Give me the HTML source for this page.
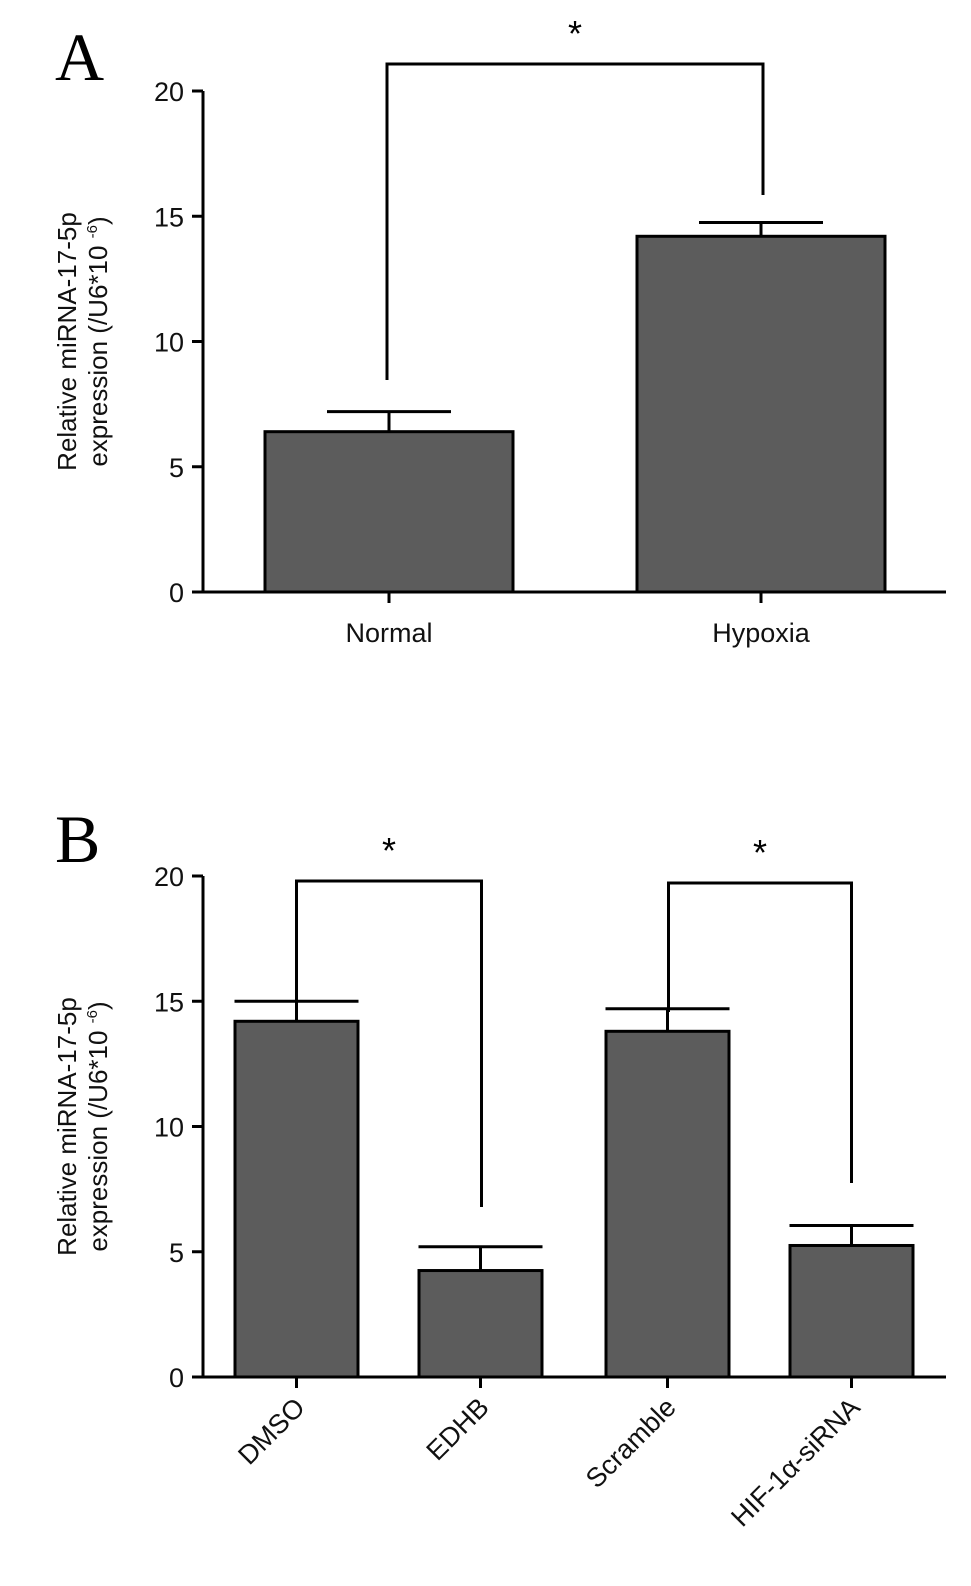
<!DOCTYPE html>
<html><head><meta charset="utf-8"><style>
html,body{margin:0;padding:0;background:#fff;}
svg{display:block;font-family:"Liberation Sans",sans-serif;}
</style></head><body>
<svg id="c" width="971" height="1586" viewBox="0 0 971 1586"></svg>
<script>
const catsA = ["Normal","Hypoxia"];
const valsA = [6.4, 14.2];
const errA = [7.2, 14.75];
const catsB = ["DMSO","EDHB","Scramble","HIF-1α-siRNA"];
const valsB = [14.2, 4.25, 13.8, 5.25];
const errB = [15.0, 5.2, 14.7, 6.05];
const yTicks = [0,5,10,15,20];

const NS="http://www.w3.org/2000/svg";
const svg=document.getElementById('c');
function mk(tag,attrs,parent,text){const e=document.createElementNS(NS,tag);for(const k in attrs)e.setAttribute(k,attrs[k]);if(text!==undefined)e.textContent=text;(parent||svg).appendChild(e);return e;}

function panel(cfg){
  const g=mk('g',{});
  
  
  const y=v=>cfg.y0-(v/20)*(cfg.y0-cfg.y20);
  const ax=mk('line',{x1:203,y1:cfg.y20,x2:203,y2:cfg.y0+1,stroke:'#000','stroke-width':3},g);
  
  const xa=mk('line',{x1:202,y1:cfg.y0,x2:946,y2:cfg.y0,stroke:'#000','stroke-width':3},g);
  
  yTicks.forEach(t=>{
    const l=mk('line',{x1:192,y1:y(t),x2:203,y2:y(t),stroke:'#000','stroke-width':3},g);
    
    const tx=mk('text',{x:184,y:y(t)+10,'font-size':27,'text-anchor':'end',fill:'#111'},g,String(t));
    
  });
  const ty=mk('text',{transform:`translate(76,${(cfg.y0+cfg.y20)/2}) rotate(-90)`,'font-size':26,'text-anchor':'middle',fill:'#111'},g);
  
  mk('tspan',{x:0,dy:0},ty,'Relative miRNA-17-5p');
  mk('tspan',{x:0,dy:31},ty,'expression (/U6*10 ');
  mk('tspan',{dy:-10,'font-size':15},ty,'-6');
  mk('tspan',{dy:10},ty,')');
  const pl=mk('text',{x:cfg.lx,y:cfg.ly,'font-size':68,'font-family':'"Liberation Serif",serif',fill:'#000'},g,cfg.id);
  
  const centers=[];
  cfg.cats.forEach((c,i)=>{
    const x0=cfg.bx[i], w=cfg.bw, cx=x0+w/2; centers.push(cx);
    const eb=mk('path',{d:`M${cx} ${y(cfg.vals[i])} V${y(cfg.errs[i])} M${cx-62} ${y(cfg.errs[i])} H${cx+62}`,stroke:'#000','stroke-width':3,fill:'none'},g);
    
    const r=mk('rect',{x:x0,y:y(cfg.vals[i]),width:w,height:cfg.y0-y(cfg.vals[i]),fill:'#5c5c5c',stroke:'#000','stroke-width':3},g);
    
    const tk=mk('line',{x1:cx,y1:cfg.y0,x2:cx,y2:cfg.y0+11,stroke:'#000','stroke-width':3},g);
    
    let lb;
    if(cfg.rot){lb=mk('text',{transform:`translate(${cx+10},${cfg.y0+32}) rotate(-45)`,'font-size':27,'text-anchor':'end',fill:'#111'},g,c);}
    else{lb=mk('text',{x:cx,y:cfg.y0+50,'font-size':27,'text-anchor':'middle',fill:'#111'},g,c);}
    
  });
  cfg.brackets.forEach(b=>{
    const xa=centers[b.a]+b.offA, xb=centers[b.b]+b.offB;
    const p=mk('path',{d:`M${xa} ${b.ya} V${b.y} H${xb} V${b.yb}`,stroke:'#000','stroke-width':3,fill:'none'},g);
    
    const s=mk('text',{x:(xa+xb)/2,y:b.y-18,'font-size':36,'text-anchor':'middle',fill:'#000'},g,'*');
    
  });
}
panel({id:'A',y0:592,y20:91,cats:catsA,vals:valsA,errs:errA,bx:[265,637],bw:248,rot:false,lx:55,ly:80,
  brackets:[{a:0,b:1,offA:-2,offB:2,y:64,ya:380,yb:195}]});
panel({id:'B',y0:1377,y20:876,cats:catsB,vals:valsB,errs:errB,bx:[235,419,606,790],bw:123,rot:true,lx:55,ly:862,
  brackets:[{a:0,b:1,offA:0,offB:1,y:881,ya:1014,yb:1207},{a:2,b:3,offA:1,offB:0,y:883,ya:1012,yb:1183}]});
</script>
</body></html>
